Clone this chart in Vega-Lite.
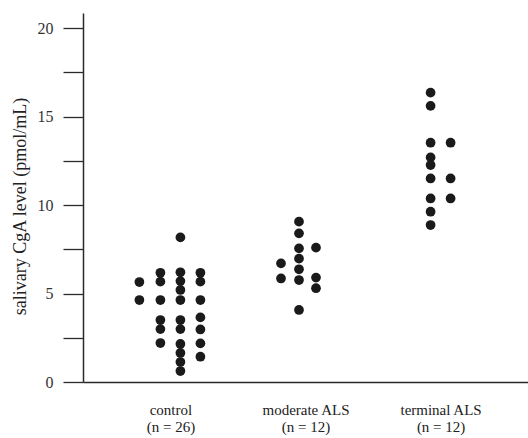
{
  "$schema": "https://vega.github.io/schema/vega-lite/v6.json",
  "width": 445,
  "height": 369,
  "autosize": {"type": "none"},
  "padding": {"left": 83, "top": 13, "right": 0, "bottom": 56},
  "background": "#ffffff",
  "config": {"view": {"stroke": null}, "font": "Liberation Serif"},
  "data": {
    "values": [
      {"group": "control", "slot": -1.55, "cga": 5.65},
      {"group": "control", "slot": -1.55, "cga": 4.63},
      {"group": "control", "slot": -0.5, "cga": 6.17},
      {"group": "control", "slot": -0.5, "cga": 5.67},
      {"group": "control", "slot": -0.5, "cga": 4.63},
      {"group": "control", "slot": -0.5, "cga": 3.5},
      {"group": "control", "slot": -0.5, "cga": 2.99},
      {"group": "control", "slot": -0.5, "cga": 2.2},
      {"group": "control", "slot": 0.5, "cga": 8.17},
      {"group": "control", "slot": 0.5, "cga": 6.2},
      {"group": "control", "slot": 0.5, "cga": 5.7},
      {"group": "control", "slot": 0.5, "cga": 5.2},
      {"group": "control", "slot": 0.5, "cga": 4.63},
      {"group": "control", "slot": 0.5, "cga": 3.5},
      {"group": "control", "slot": 0.5, "cga": 2.99},
      {"group": "control", "slot": 0.5, "cga": 2.15},
      {"group": "control", "slot": 0.5, "cga": 1.64},
      {"group": "control", "slot": 0.5, "cga": 1.13},
      {"group": "control", "slot": 0.5, "cga": 0.62},
      {"group": "control", "slot": 1.5, "cga": 6.17},
      {"group": "control", "slot": 1.5, "cga": 5.67},
      {"group": "control", "slot": 1.5, "cga": 4.63},
      {"group": "control", "slot": 1.5, "cga": 3.65},
      {"group": "control", "slot": 1.5, "cga": 2.97},
      {"group": "control", "slot": 1.5, "cga": 2.18},
      {"group": "control", "slot": 1.5, "cga": 1.43},
      {"group": "moderate ALS", "slot": -1.225, "cga": 6.7},
      {"group": "moderate ALS", "slot": -1.225, "cga": 5.85},
      {"group": "moderate ALS", "slot": -0.325, "cga": 9.06},
      {"group": "moderate ALS", "slot": -0.325, "cga": 8.4},
      {"group": "moderate ALS", "slot": -0.325, "cga": 7.55},
      {"group": "moderate ALS", "slot": -0.325, "cga": 6.97},
      {"group": "moderate ALS", "slot": -0.325, "cga": 6.37},
      {"group": "moderate ALS", "slot": -0.325, "cga": 5.76},
      {"group": "moderate ALS", "slot": -0.325, "cga": 4.07},
      {"group": "moderate ALS", "slot": 0.525, "cga": 7.59},
      {"group": "moderate ALS", "slot": 0.525, "cga": 5.9},
      {"group": "moderate ALS", "slot": 0.525, "cga": 5.3},
      {"group": "terminal ALS", "slot": -0.5, "cga": 16.35},
      {"group": "terminal ALS", "slot": -0.5, "cga": 15.6},
      {"group": "terminal ALS", "slot": -0.5, "cga": 13.52},
      {"group": "terminal ALS", "slot": -0.5, "cga": 12.69},
      {"group": "terminal ALS", "slot": -0.5, "cga": 12.26},
      {"group": "terminal ALS", "slot": -0.5, "cga": 11.5},
      {"group": "terminal ALS", "slot": -0.5, "cga": 10.37},
      {"group": "terminal ALS", "slot": -0.5, "cga": 9.62},
      {"group": "terminal ALS", "slot": -0.5, "cga": 8.87},
      {"group": "terminal ALS", "slot": 0.5, "cga": 13.52},
      {"group": "terminal ALS", "slot": 0.5, "cga": 11.5},
      {"group": "terminal ALS", "slot": 0.5, "cga": 10.37}
    ]
  },
  "mark": {"type": "circle", "size": 95, "color": "#1a1a1a", "opacity": 1},
  "encoding": {
    "x": {
      "field": "group",
      "type": "nominal",
      "sort": ["control", "moderate ALS", "terminal ALS"],
      "scale": {"type": "point", "padding": 0.647},
      "axis": {
        "title": null,
        "ticks": false,
        "grid": false,
        "domainColor": "#2a2a2a",
        "domainWidth": 1.5,
        "labelAngle": 0,
        "labelFont": "Liberation Serif",
        "labelFontSize": 15,
        "labelColor": "#222222",
        "labelPadding": 20,
        "labelLineHeight": 17,
        "labelBaseline": "top",
        "labelExpr": "[datum.label, datum.label == 'control' ? '(n = 26)' : '(n = 12)']"
      }
    },
    "xOffset": {
      "field": "slot",
      "type": "quantitative",
      "scale": {"domain": [-2, 2], "range": [-40, 40]}
    },
    "y": {
      "field": "cga",
      "type": "quantitative",
      "scale": {"domain": [0, 20.85], "nice": false, "zero": true},
      "axis": {
        "title": "salivary CgA level (pmol/mL)",
        "titleFont": "Liberation Serif",
        "titleFontSize": 18,
        "titleFontWeight": "normal",
        "titleColor": "#222222",
        "titleX": -63,
        "titleY": 193,
        "titleAngle": -90,
        "titleAlign": "center",
        "titleBaseline": "middle",
        "values": [0, 2.5, 5, 7.5, 10, 12.5, 15, 17.5, 20],
        "labelExpr": "datum.value % 5 == 0 ? datum.label : ''",
        "grid": false,
        "tickSize": 20,
        "tickColor": "#2a2a2a",
        "tickWidth": 1.3,
        "domainColor": "#2a2a2a",
        "domainWidth": 1.5,
        "labelFont": "Liberation Serif",
        "labelFontSize": 16,
        "labelColor": "#333333",
        "labelPadding": 10
      }
    }
  }
}
